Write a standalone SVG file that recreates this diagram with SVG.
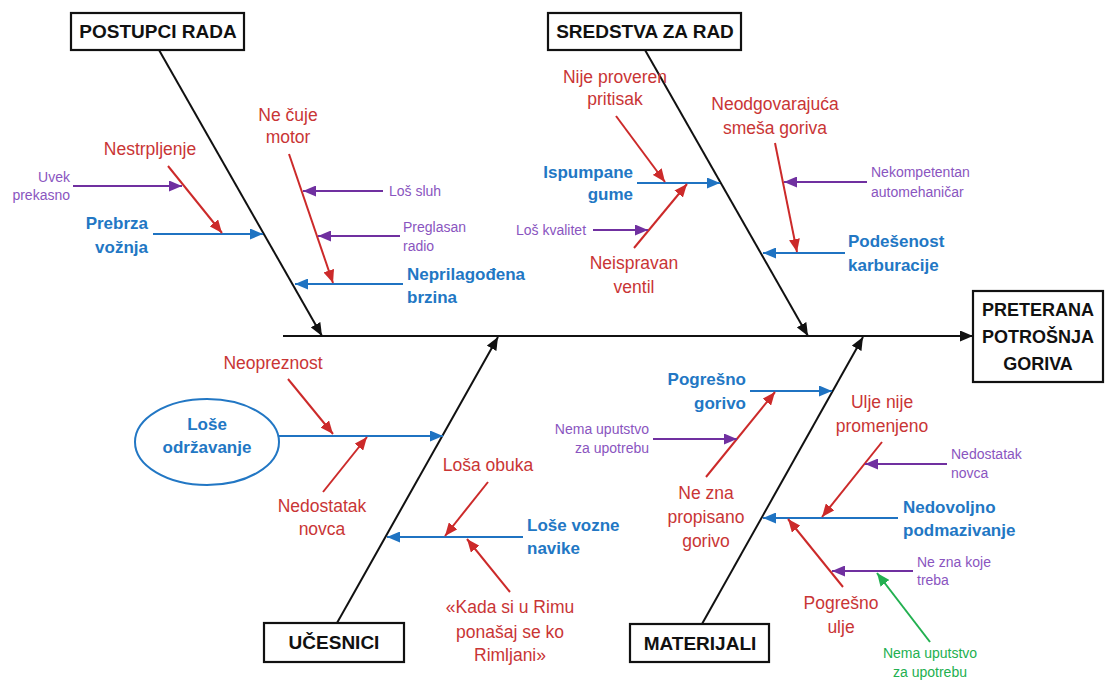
<svg xmlns="http://www.w3.org/2000/svg" width="1105" height="680" viewBox="0 0 1105 680">
<style>
text{font-family:"Liberation Sans",Arial,sans-serif}
.box{fill:#fff;stroke:#111;stroke-width:2.2}
.ttl{font-size:19px;font-weight:bold;fill:#111;text-anchor:middle}
.hd{font-size:18px;font-weight:bold;fill:#111;text-anchor:middle}
.r{font-size:17.5px;fill:#c93535}
.b{font-size:17px;font-weight:bold;fill:#2277c4}
.p{font-size:14px;fill:#8a55c0}
.g{font-size:14px;fill:#22b050}
.m{text-anchor:middle}
.e{text-anchor:end}
.bone{stroke:#111;stroke-width:2;fill:none;marker-end:url(#ak)}
.ar{stroke:#cc2a2a;stroke-width:2;fill:none;marker-end:url(#ar)}
.ab{stroke:#1f73c2;stroke-width:2;fill:none;marker-end:url(#ab)}
.ap{stroke:#7030a0;stroke-width:2;fill:none;marker-end:url(#ap)}
.ag{stroke:#22b050;stroke-width:2;fill:none;marker-end:url(#ag)}
</style>
<defs>
<marker id="ak" markerUnits="userSpaceOnUse" markerWidth="13" markerHeight="11" refX="13" refY="5.5" orient="auto"><path d="M0,0 L13,5.5 L0,11 z" fill="#111"/></marker>
<marker id="ar" markerUnits="userSpaceOnUse" markerWidth="13" markerHeight="11" refX="13" refY="5.5" orient="auto"><path d="M0,0 L13,5.5 L0,11 z" fill="#cc2a2a"/></marker>
<marker id="ab" markerUnits="userSpaceOnUse" markerWidth="13" markerHeight="11" refX="13" refY="5.5" orient="auto"><path d="M0,0 L13,5.5 L0,11 z" fill="#1f73c2"/></marker>
<marker id="ap" markerUnits="userSpaceOnUse" markerWidth="13" markerHeight="11" refX="13" refY="5.5" orient="auto"><path d="M0,0 L13,5.5 L0,11 z" fill="#7030a0"/></marker>
<marker id="ag" markerUnits="userSpaceOnUse" markerWidth="13" markerHeight="11" refX="13" refY="5.5" orient="auto"><path d="M0,0 L13,5.5 L0,11 z" fill="#22b050"/></marker>
</defs>
<rect width="1105" height="680" fill="#fff"/>

<g id="connectors">
<line class="bone" x1="283" y1="336" x2="973" y2="336"/>
<line class="bone" x1="159" y1="50" x2="322" y2="336"/>
<line class="bone" x1="645" y1="50" x2="808" y2="336"/>
<line class="bone" x1="337" y1="623" x2="498" y2="337"/>
<line class="bone" x1="702" y1="624" x2="863" y2="337"/>

<line class="ab" x1="153" y1="234" x2="263" y2="234"/>
<line class="ar" x1="168" y1="166" x2="222" y2="233"/>
<line class="ap" x1="73" y1="186" x2="182" y2="186"/>
<line class="ab" x1="403" y1="284" x2="295" y2="284"/>
<line class="ar" x1="289" y1="154" x2="333" y2="283"/>
<line class="ap" x1="383" y1="191" x2="303" y2="191"/>
<line class="ap" x1="400" y1="236" x2="318" y2="236"/>

<line class="ab" x1="637" y1="183" x2="720" y2="183"/>
<line class="ar" x1="616" y1="116" x2="665" y2="182"/>
<line class="ar" x1="634" y1="248" x2="687" y2="184"/>
<line class="ap" x1="593" y1="230" x2="648" y2="230"/>
<line class="ab" x1="845" y1="253" x2="763" y2="253"/>
<line class="ar" x1="775" y1="143" x2="797" y2="252"/>
<line class="ap" x1="867" y1="182" x2="784" y2="182"/>

<line class="ab" x1="278" y1="436" x2="443" y2="436"/>
<line class="ar" x1="288" y1="379" x2="333" y2="434"/>
<line class="ar" x1="323" y1="492" x2="367" y2="437"/>
<line class="ab" x1="523" y1="537" x2="387" y2="537"/>
<line class="ar" x1="488" y1="482" x2="445" y2="536"/>
<line class="ar" x1="510" y1="592" x2="467" y2="539"/>

<line class="ab" x1="750" y1="391" x2="832" y2="391"/>
<line class="ar" x1="706" y1="477" x2="775" y2="392"/>
<line class="ap" x1="653" y1="439" x2="737" y2="439"/>
<line class="ab" x1="898" y1="518" x2="763" y2="518"/>
<line class="ar" x1="882" y1="442" x2="822" y2="517"/>
<line class="ap" x1="947" y1="464" x2="865" y2="464"/>
<line class="ar" x1="843" y1="587" x2="788" y2="519"/>
<line class="ap" x1="913" y1="571" x2="832" y2="571"/>
<line class="ag" x1="930" y1="642" x2="877" y2="573"/>
</g>

<g id="postupci-rada"><rect class="box" x="71" y="13" width="173" height="37"/><text class="ttl" x="158" y="38">POSTUPCI RADA</text></g>
<g id="sredstva-za-rad"><rect class="box" x="548" y="13" width="193" height="37"/><text class="ttl" x="645" y="38">SREDSTVA ZA RAD</text></g>
<g id="ucesnici"><rect class="box" x="264" y="623" width="140" height="39"/><text class="ttl" x="334" y="649">UČESNICI</text></g>
<g id="materijali"><rect class="box" x="630" y="624" width="139" height="38"/><text class="ttl" x="700" y="650">MATERIJALI</text></g>
<g id="head"><rect class="box" x="973" y="291" width="130" height="91"/>
<text class="hd" x="1038" y="316">PRETERANA</text><text class="hd" x="1038" y="343">POTROŠNJA</text><text class="hd" x="1038" y="370">GORIVA</text></g>

<g id="nestrpljenje"><text class="r m" x="150" y="155">Nestrpljenje</text></g>
<g id="uvek-prekasno"><text class="p e" x="70" y="182">Uvek</text><text class="p e" x="70" y="200">prekasno</text></g>
<g id="prebrza-voznja"><text class="b e" x="148" y="229">Prebrza</text><text class="b e" x="148" y="253">vožnja</text></g>
<g id="ne-cuje-motor"><text class="r m" x="288" y="121">Ne čuje</text><text class="r m" x="288" y="143">motor</text></g>
<g id="los-sluh"><text class="p" x="389" y="196">Loš sluh</text></g>
<g id="preglasan-radio"><text class="p" x="403" y="232">Preglasan</text><text class="p" x="403" y="251">radio</text></g>
<g id="neprilagodjena-brzina"><text class="b" x="407" y="280">Neprilagođena</text><text class="b" x="407" y="303">brzina</text></g>

<g id="nije-proveren-pritisak"><text class="r m" x="615" y="83">Nije proveren</text><text class="r m" x="615" y="105">pritisak</text></g>
<g id="ispumpane-gume"><text class="b e" x="633" y="178">Ispumpane</text><text class="b e" x="633" y="200">gume</text></g>
<g id="los-kvalitet"><text class="p" x="516" y="235">Loš kvalitet</text></g>
<g id="neispravan-ventil"><text class="r m" x="634" y="269">Neispravan</text><text class="r m" x="634" y="293">ventil</text></g>
<g id="neodgovarajuca-smesa"><text class="r m" x="775" y="110">Neodgovarajuća</text><text class="r m" x="775" y="134">smeša goriva</text></g>
<g id="nekompetentan"><text class="p" x="871" y="177">Nekompetentan</text><text class="p" x="871" y="197">automehaničar</text></g>
<g id="podesenost-karburacije"><text class="b" x="848" y="247">Podešenost</text><text class="b" x="848" y="271">karburacije</text></g>

<g id="lose-odrzavanje"><ellipse cx="207" cy="442" rx="72" ry="43" fill="#fff" stroke="#2277c4" stroke-width="2"/><text class="b m" x="207" y="430">Loše</text><text class="b m" x="207" y="453">održavanje</text></g>
<g id="neopreznost"><text class="r m" x="273" y="369">Neopreznost</text></g>
<g id="nedostatak-novca-1"><text class="r m" x="322" y="512">Nedostatak</text><text class="r m" x="322" y="535">novca</text></g>
<g id="losa-obuka"><text class="r m" x="488" y="471">Loša obuka</text></g>
<g id="lose-vozne-navike"><text class="b" x="527" y="531">Loše vozne</text><text class="b" x="527" y="554">navike</text></g>
<g id="kada-si-u-rimu"><text class="r m" x="510" y="613">«Kada si u Rimu</text><text class="r m" x="510" y="638">ponašaj se ko</text><text class="r m" x="510" y="661">Rimljani»</text></g>

<g id="pogresno-gorivo"><text class="b e" x="746" y="385">Pogrešno</text><text class="b e" x="746" y="409">gorivo</text></g>
<g id="nema-uputstvo-1"><text class="p e" x="649" y="434">Nema uputstvo</text><text class="p e" x="649" y="453">za upotrebu</text></g>
<g id="ne-zna-propisano"><text class="r m" x="706" y="499">Ne zna</text><text class="r m" x="706" y="523">propisano</text><text class="r m" x="706" y="547">gorivo</text></g>
<g id="ulje-nije-promenjeno"><text class="r m" x="882" y="408">Ulje nije</text><text class="r m" x="882" y="432">promenjeno</text></g>
<g id="nedostatak-novca-2"><text class="p" x="951" y="459">Nedostatak</text><text class="p" x="951" y="478">novca</text></g>
<g id="nedovoljno-podmazivanje"><text class="b" x="903" y="513">Nedovoljno</text><text class="b" x="903" y="536">podmazivanje</text></g>
<g id="pogresno-ulje"><text class="r m" x="841" y="609">Pogrešno</text><text class="r m" x="841" y="633">ulje</text></g>
<g id="ne-zna-koje-treba"><text class="p" x="917" y="567">Ne zna koje</text><text class="p" x="917" y="585">treba</text></g>
<g id="nema-uputstvo-2"><text class="g m" x="930" y="658">Nema uputstvo</text><text class="g m" x="930" y="677">za upotrebu</text></g>
</svg>
